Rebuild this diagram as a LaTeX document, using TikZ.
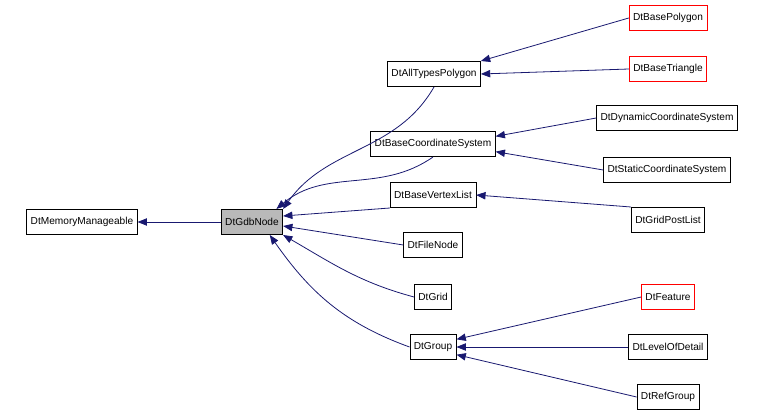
\documentclass[tikz,border=0pt]{standalone}
\usepackage{fontspec}
\setmainfont{Liberation Sans}
\usetikzlibrary{arrows.meta}
\begin{document}
\begin{tikzpicture}[x=0.75pt,y=-0.75pt,font=\fontsize{7.6}{9}\selectfont,
  cls/.style={draw=black,fill=white,minimum height=19pt,inner xsep=3pt,line width=0.5pt},
  redcls/.style={cls,draw=red},
  inh/.style={draw={rgb,255:red,25;green,25;blue,112},line width=0.6pt,
    {Triangle[length=7pt,width=5.5pt]}-}]
\useasboundingbox (0,0) rectangle (773,417);
% classes
\node[cls] (mm) at (82,222) {DtMemoryManageable};
\node[cls,fill=gray!55] (gdb) at (252,222) {DtGdbNode};
\node[cls] (atp) at (434,74) {DtAllTypesPolygon};
\node[cls] (bcs) at (433,144) {DtBaseCoordinateSystem};
\node[cls] (bvl) at (433,195) {DtBaseVertexList};
\node[cls] (fn) at (433,245) {DtFileNode};
\node[cls] (grid) at (433,297) {DtGrid};
\node[cls] (grp) at (433,347) {DtGroup};
\node[redcls] (bp) at (668,18) {DtBasePolygon};
\node[redcls] (bt) at (668,69) {DtBaseTriangle};
\node[cls] (dcs) at (667,118) {DtDynamicCoordinateSystem};
\node[cls] (scs) at (667,170) {DtStaticCoordinateSystem};
\node[cls] (gpl) at (668,220) {DtGridPostList};
\node[redcls] (feat) at (668,297) {DtFeature};
\node[cls] (lod) at (668,347) {DtLevelOfDetail};
\node[cls] (rg) at (668,397) {DtRefGroup};
% inheritance
\draw[inh] (mm) -- (gdb);
\draw[inh] (gdb.north east) to[out=55,in=240] (atp.south);
\draw[inh] ([xshift=-8pt]gdb.north east) ++(4,0) to[out=40,in=215] (bcs.south);
\draw[inh] (gdb.east) ++(0,-6) -- (bvl.south west);
\draw[inh] (gdb.east) ++(0,4) -- (fn.west);
\draw[inh] (gdb.south east) to[out=-30,in=165] (grid.west);
\draw[inh] ([xshift=-10pt]gdb.south east) to[out=-55,in=160] (grp.west);
\draw[inh] (atp.north east) -- (bp.west);
\draw[inh] (atp.east) -- (bt.west);
\draw[inh] ([yshift=-4pt]bcs.north east) -- (dcs.west);
\draw[inh] ([yshift=4pt]bcs.south east) -- (scs.west);
\draw[inh] (bvl.east) -- (gpl.north west);
\draw[inh] ([yshift=-4pt]grp.north east) -- (feat.west);
\draw[inh] (grp.east) -- (lod.west);
\draw[inh] ([yshift=4pt]grp.south east) -- (rg.west);
\end{tikzpicture}
\end{document}
